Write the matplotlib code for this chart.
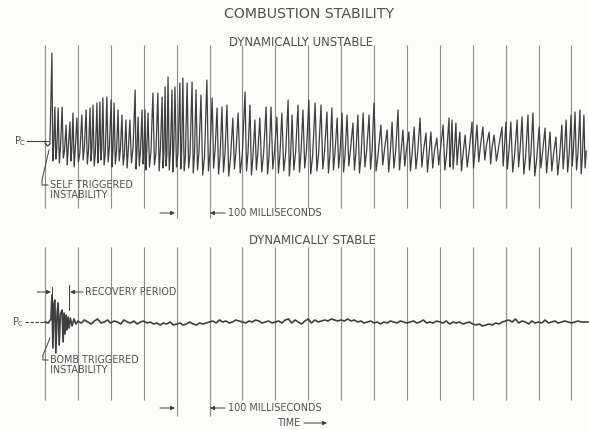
import numpy as np
import matplotlib
matplotlib.use('Agg')
from matplotlib import pyplot as plt

# time marks, one every 100 ms
marks_ms = list(range(0, 1700, 100))

# dynamically unstable trace: spike peaks, following troughs and band bumps (relative to Pc)
peak_ms = [21,
           30, 40, 52, 64, 76, 85, 97, 112, 125, 137,
           146, 158, 167, 176, 188, 201, 210, 222, 234, 246,
           258, 274, 283, 295, 304, 313, 328, 343, 356, 365,
           374, 386, 395, 410, 419, 432,
           447, 459, 474, 492, 508, 523, 538, 553, 571, 587,
           608, 623, 638, 653, 672, 687, 705, 720, 739, 751,
           769, 784, 802, 821, 839, 857, 872,
           888, 903, 918, 936, 951, 967, 985, 1000, 1021, 1040,
           1055, 1073, 1088, 1106, 1122, 1140, 1158, 1173, 1191, 1210,
           1228,
           1237, 1249, 1261, 1277, 1298, 1313, 1331, 1350, 1365, 1389,
           1401, 1416, 1435, 1450, 1468, 1483, 1502, 1520, 1535, 1553,
           1571, 1584, 1599, 1611, 1626, 1638]
peak_amp = [88,
            34, 33, 34, 16, 19, 28, 23, 26, 31, 33,
            36, 38, 39, 43, 44, 41, 38, 31, 26, 21,
            21, 51, 24, 31, 31, 28, 48, 48, 44, 54,
            64, 51, 54, 58, 63, 58,
            59, 51, 46, 61, 43, 33, 34, 36, 23, 28,
            49, 36, 21, 23, 34, 34, 24, 28, 41, 26,
            36, 31, 41, 38, 36, 29, 33,
            23, 28, 26, 18, 26, 28, 26, 38, 16, 11,
            19, 31, 11, 9, 14, 23, 8, 9, 3, 16,
            23,
            21, 18, 9, 6, 19, 16, 14, 9, 6, 14,
            19, 19, 21, 24, 26, 28, 14, 13, 9, 4,
            16, 21, 26, 29, 31, 26]
trough_amp = [-20,
              -18, -22, -17, -24, -20, -26, -21, -19, -23, -20,
              -25, -22, -19, -24, -21, -26, -23, -20, -24, -27,
              -22, -28, -25, -23, -29, -26, -24, -30, -27, -25,
              -29, -31, -26, -28, -30, -27,
              -32, -29, -34, -30, -27, -33, -31, -35, -28, -32,
              -30, -34, -29, -31, -33, -28, -32, -30, -35, -29,
              -31, -27, -33, -30, -28, -32, -29,
              -27, -31, -25, -29, -32, -26, -28, -30, -24, -31,
              -27, -29, -25, -30, -28, -26, -31, -27, -24, -29,
              -26,
              -28, -24, -30, -26, -27, -21, -19, -23, -20, -25,
              -28, -31, -26, -33, -29, -35, -27, -32, -30, -34,
              -28, -31, -25, -29, -33, -27]
mid_amp = [-6,
           -8, -5, -10, -4, -9, -7, -12, -6, -10, -8,
           -11, -7, -9, -13, -6, -10, -12, -8, -14, -9,
           -7, -12, -10, -15, -9, -11, -13, -8, -12, -14,
           -10, -9, -13, -11, -15, -12,
           -14, -11, -16, -12, -9, -15, -13, -17, -10, -14,
           -12, -16, -11, -13, -15, -10, -14, -12, -17, -11,
           -13, -9, -15, -12, -10, -14, -11,
           -10, -14, -8, -12, -15, -9, -11, -13, -7, -14,
           -10, -12, -8, -13, -11, -9, -14, -10, -7, -12,
           -9,
           -11, -7, -13, -9, -10, -4, -3, -6, -5, -8,
           -11, -14, -9, -16, -12, -18, -10, -15, -13, -17,
           -11, -14, -8, -12, -16, -10]
lead_ms = [0, 8, 15]
lead_amp = [-2, -5, -3]

# dynamically stable trace: bomb burst then small noise
burst_ms = [0, 10, 18, 21, 24, 27, 30, 33, 37, 40, 43, 47, 52, 55, 58, 61, 64, 67, 70, 73, 77, 82, 88, 94]
burst_amp = [0, -1, 3, 27, -26, 18, 22, -31, 10, 19, -23, 8, 12, -20, 9, -12, 7, -8, 5, -6, 4, -4, 3, -2]
calm_ms = list(range(100, 1660, 10))
calm_amp = [1, -1, 2, 0, -2, 1, 3, -1, 0, 2,
            -1, 1, 0, -2, 2, 0, -1, 1, -2, 0,
            1, -1, 0, -2, -1, -3, -1, -2, 0, -3,
            -2, -1, -3, -2, 0, -2, -3, -1, -2, -1,
            0, 1, -1, 2, 0, 1, -1, 0, 2, 1,
            0, -1, 1, 0, 2, 1, -1, 0, 1, -1,
            0, 1, -1, 2, 3, -1, 2, 0, -2, 1,
            3, -1, 2, 0, 1, 2, 1, 3, 2, 1,
            2, 1, 3, 1, 2, 0, 1, -1, 0, 1,
            -1, 0, -2, 0, -1, 1, 0, -1, 1, 0,
            -1, 0, 1, -1, 0, 2, -1, 0, -1, 1,
            0, -1, 1, -2, 0, -1, 0, -2, -1, 0,
            -2, -3, -2, -4, -3, -2, -3, -1, -2, 0,
            1, 2, 0, 3, -1, 1, 0, -2, 1, -1,
            0, -1, 2, -1, 0, 1, -1, 0, 1, 0,
            -1, 0, 1, 0, 0, 0]

W, H = 589, 430
PX_MS = 0.329      # pixels per ms
X0 = 45            # pixel of t = 0
INK = '#3f3f3f'
GRID = '#8a8a8a'
TXT = '#505050'
SMALL = 6.9

fig = plt.figure(figsize=(W / 100, H / 100), dpi=100)
fig.patch.set_facecolor('#fcfcfb')
xl = (-X0 / PX_MS, (W - X0) / PX_MS)

# top panel: pixel rows 30..225, Pc at row 141
ax1 = fig.add_axes([0, 1 - 225 / H, 1, 195 / H])
ax1.set_xlim(*xl)
ax1.set_ylim(141 - 225, 141 - 30)
ax1.axis('off')
ax1.vlines(marks_ms, 141 - 208, 141 - 45, color=GRID, lw=0.8)
ax1.vlines([400, 500], 141 - 218, 141 - 208, color=GRID, lw=0.8)

t_top, a_top = list(lead_ms), list(lead_amp)
for i in range(len(peak_ms)):
    dt = (peak_ms[i + 1] - peak_ms[i]) if i + 1 < len(peak_ms) else (peak_ms[i] - peak_ms[i - 1])
    t_top += [peak_ms[i], peak_ms[i] + 0.3 * dt, peak_ms[i] + 0.6 * dt]
    a_top += [peak_amp[i], trough_amp[i], mid_amp[i]]
ax1.plot(t_top, a_top, color=INK, lw=0.9)

# bottom panel: pixel rows 235..430, Pc at row 322
ax2 = fig.add_axes([0, 0, 1, 195 / H])
ax2.set_xlim(*xl)
ax2.set_ylim(322 - 430, 322 - 235)
ax2.axis('off')
ax2.vlines(marks_ms, 322 - 400, 322 - 247, color=GRID, lw=0.8)
ax2.vlines([400, 500], 322 - 416, 322 - 400, color=GRID, lw=0.8)
ax2.plot(burst_ms + calm_ms, burst_amp + calm_amp, color=INK, lw=1.2)

# overlay in pixel coordinates for the lettering
ov = fig.add_axes([0, 0, 1, 1])
ov.set_xlim(0, W)
ov.set_ylim(H, 0)
ov.axis('off')
ov.patch.set_alpha(0)

ov.text(309, 14, 'COMBUSTION STABILITY', ha='center', va='center', fontsize=10.2, color=TXT)
ov.text(301, 42, 'DYNAMICALLY UNSTABLE', ha='center', va='center', fontsize=8.4, color=TXT)
ov.text(312, 241, 'DYNAMICALLY STABLE', ha='center', va='center', fontsize=8.4, color=TXT)

ov.text(20, 141, r'$\mathregular{P_C}$', ha='center', va='center', fontsize=7, color=TXT)
ov.plot([27, 48], [141, 141], color=INK, lw=0.8)
ov.text(18, 322, r'$\mathregular{P_C}$', ha='center', va='center', fontsize=7, color=TXT)
ov.plot([25, 48], [322, 322], color=INK, lw=0.8, ls=(0, (3, 1.5)))

ov.plot([49, 42, 42, 48], [150, 180, 185, 185], color=INK, lw=0.7)
ov.text(50, 185, 'SELF TRIGGERED', ha='left', va='center', fontsize=SMALL, color=TXT)
ov.text(50, 195, 'INSTABILITY', ha='left', va='center', fontsize=SMALL, color=TXT)

ov.plot([50, 43, 43, 48], [338, 355, 360, 360], color=INK, lw=0.7)
ov.text(50, 360, 'BOMB TRIGGERED', ha='left', va='center', fontsize=SMALL, color=TXT)
ov.text(50, 370, 'INSTABILITY', ha='left', va='center', fontsize=SMALL, color=TXT)

arr = dict(arrowstyle='-|>', color=INK, lw=0.7, mutation_scale=6, shrinkA=0, shrinkB=0)
ov.annotate('', xy=(51, 292), xytext=(37, 292), arrowprops=arr)
ov.plot([52, 52], [287, 297], color=INK, lw=0.7)
ov.plot([69, 69], [285, 310], color=INK, lw=0.7)
ov.annotate('', xy=(70, 292), xytext=(83, 292), arrowprops=arr)
ov.text(85, 292, 'RECOVERY PERIOD', ha='left', va='center', fontsize=SMALL, color=TXT)

for y in (213, 408):
    ov.annotate('', xy=(175, y), xytext=(160, y), arrowprops=arr)
    ov.annotate('', xy=(210, y), xytext=(225, y), arrowprops=arr)
    ov.text(228, y, '100 MILLISECONDS', ha='left', va='center', fontsize=SMALL, color=TXT)

ov.text(278, 423, 'TIME', ha='left', va='center', fontsize=SMALL, color=TXT)
ov.annotate('', xy=(327, 423), xytext=(304, 423), arrowprops=arr)

plt.savefig('out.png', dpi=100, facecolor=fig.get_facecolor())
